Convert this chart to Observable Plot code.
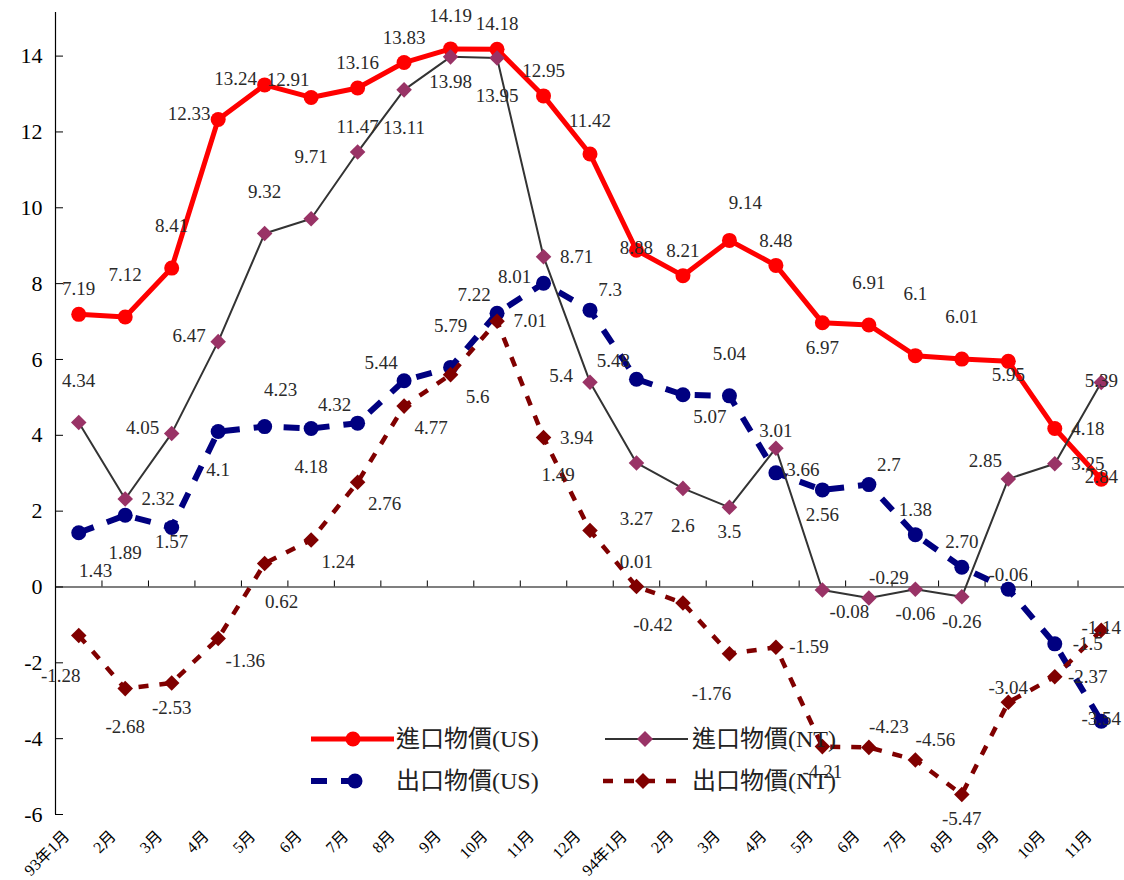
<!DOCTYPE html>
<html>
<head>
<meta charset="utf-8">
<script src="https://cdn.jsdelivr.net/npm/d3@7"></script>
<script src="https://cdn.jsdelivr.net/npm/@observablehq/plot@0.6"></script>
<style>
  body { margin: 0; background: #fff; }
  #chart { width: 1124px; height: 880px; }
</style>
</head>
<body>
<div id="chart"></div>
<script>
// ---- data ----
const months = ["93年1月","2月","3月","4月","5月","6月","7月","8月","9月","10月","11月","12月",
                "94年1月","2月","3月","4月","5月","6月","7月","8月","9月","10月","11月"];
const yTicks = [-6, -4, -2, 0, 2, 4, 6, 8, 10, 12, 14];

const importUS = [7.19, 7.12, 8.41, 12.33, 13.24, 12.91, 13.16, 13.83, 14.19, 14.18, 12.95, 11.42,
                  8.88, 8.21, 9.14, 8.48, 6.97, 6.91, 6.1, 6.01, 5.95, 4.18, 2.84];
const importNT = [4.34, 2.32, 4.05, 6.47, 9.32, 9.71, 11.47, 13.11, 13.98, 13.95, 8.71, 5.4,
                  3.27, 2.6, 2.1, 3.66, -0.08, -0.29, -0.06, -0.26, 2.85, 3.25, 5.39];
const exportUS = [1.43, 1.89, 1.57, 4.1, 4.23, 4.18, 4.32, 5.44, 5.79, 7.22, 8.01, 7.3,
                  5.48, 5.07, 5.04, 3.01, 2.56, 2.7, 1.38, 0.52, -0.06, -1.5, -3.54];
const exportNT = [-1.28, -2.68, -2.53, -1.36, 0.62, 1.24, 2.76, 4.77, 5.6, 7.01, 3.94, 1.49,
                  0.01, -0.42, -1.76, -1.59, -4.21, -4.23, -4.56, -5.47, -3.04, -2.37, -1.14];

// data-label texts as printed on the chart
const importUSLabels = importUS.map(String);
const importNTLabels = ["4.34","2.32","4.05","6.47","9.32","9.71","11.47","13.11","13.98","13.95","8.71","5.4",
                        "3.27","2.6","3.5","3.66","-0.08","-0.29","-0.06","-0.26","2.85","3.25","5.39"];
const exportUSLabels = ["1.43","1.89","1.57","4.1","4.23","4.18","4.32","5.44","5.79","7.22","8.01","7.3",
                        "5.48","5.07","5.04","3.01","2.56","2.7","1.38","2.70","-0.06","-1.5","-3.54"];
const exportNTLabels = exportNT.map(String);

// label placement keywords (like a spreadsheet's per-label position setting)
const importUSPos = ["t","tt","tt","l","l","tl","t","t","t2","t","t","t2","c","t","ttr","t","b","tt","ttt","tt","b1","r","c"];
const importNTPos = ["tt","r","l","l","tt","ttt","t","bb","b","bb","r","l","bbb","bb","b","br","br","tr","b","b","tl","r","c"];
const exportUSPos = ["bbr","bb","b1","bb","ttr","bb","tl","tl","tt","tl","l","tr","tl","br","tt","tt","b","tr","t","t","t1","r","c"];
const exportNTPos = ["bbl","bb","b","br","bbr","br","br","br","br","r","r","ttl","t","bl","bbl","r","b","tr","tr","b","t1","r","c"];

const placement = {
  c: [0, -2], t1: [0, -14], t: [0, -25], t2: [0, -33], tt: [0, -42], ttt: [0, -62],
  b1: [0, 14], b: [0, 25], bb: [0, 38], bbb: [0, 56],
  l: [-29, -6], r: [33, 0], tl: [-23, -18], tr: [20, -20],
  bl: [-30, 22], br: [27, 22], bbr: [17, 38], bbl: [-18, 40],
  ttl: [-32, -56], ttr: [16, -37]
};

// ---- styles ----
const serif = "'Liberation Serif', 'Times New Roman', 'Noto Sans CJK TC', serif";
const series = [
  {name: "出口物價(US)", values: exportUS, labels: exportUSLabels, pos: exportUSPos,
   stroke: "#000080", width: 6, dash: "16,14", symbol: "circle", fill: "#000080", r: 7.5},
  {name: "出口物價(NT)", values: exportNT, labels: exportNTLabels, pos: exportNTPos,
   stroke: "#800000", width: 4.5, dash: "10,11", symbol: "diamond2", fill: "#800000", r: 7},
  {name: "進口物價(US)", values: importUS, labels: importUSLabels, pos: importUSPos,
   stroke: "#ff0000", width: 5, dash: null, symbol: "circle", fill: "#ff0000", r: 7.5},
  {name: "進口物價(NT)", values: importNT, labels: importNTLabels, pos: importNTPos,
   stroke: "#333333", width: 2, dash: null, symbol: "diamond2", fill: "#993366", r: 7}
];

const rows = series.flatMap(s => s.values.map((v, i) => ({
  series: s.name, i, v, label: s.labels[i], pos: s.pos[i]
})));

const idx = d3.range(months.length);
const bounds = d3.range(months.length + 1).map(k => k - 0.5);

const marks = [
  Plot.ruleX([-0.5], {stroke: "#000", strokeWidth: 1.2}),
  Plot.ruleY([0], {stroke: "#000", strokeWidth: 1.2}),
  Plot.ruleX(bounds.slice(1), {x: d => d, y1: 0, y2: 0, insetTop: -6, stroke: "#000"}),
  Plot.ruleY(yTicks, {y: d => d, x1: -0.5, x2: -0.5, insetRight: -8, stroke: "#000"}),
  Plot.axisY({ticks: yTicks, tickSize: 0, tickPadding: 13, fontSize: 22, fill: "#000",
              tickFormat: d => String(d), label: null}),
  Plot.axisX({ticks: idx, tickFormat: i => months[i], tickRotate: -45, tickSize: 0,
              tickPadding: 19, dx: -12, fontSize: 16, fill: "#000", label: null})
];

for (const s of series) {
  const data = rows.filter(d => d.series === s.name);
  marks.push(Plot.line(data, {x: "i", y: "v", stroke: s.stroke, strokeWidth: s.width,
    strokeDasharray: s.dash || undefined, strokeLinejoin: "round", strokeLinecap: "butt"}));
  marks.push(Plot.dot(data, {x: "i", y: "v", symbol: s.symbol, r: s.r, fill: s.fill, stroke: "none"}));
}

for (const [k, [dx, dy]] of Object.entries(placement)) {
  const data = rows.filter(d => d.pos === k);
  if (!data.length) continue;
  marks.push(Plot.text(data, {x: "i", y: "v", text: "label", dx, dy, fontSize: 19,
    fill: "#2a2a2a", textAnchor: "middle", lineAnchor: "middle"}));
}

const svg = Plot.plot({
  width: 1124,
  height: 880,
  marginLeft: 55,
  marginRight: 0,
  marginTop: 12,
  marginBottom: 66,
  x: {type: "linear", domain: [-0.5, months.length - 0.5], axis: null},
  y: {domain: [-6, 15.15], axis: null},
  style: {fontFamily: serif, background: "#fff", overflow: "visible"},
  marks
});

// ---- legend (inside plot area) ----
const legendItems = [
  {s: series[2], x0: 311, x1: 394, mx: 353, y: 739, tx: 396},
  {s: series[3], x0: 605, x1: 688, mx: 645, y: 739, tx: 692},
  {s: series[0], x0: 311, x1: 371, mx: 355, y: 781, tx: 396},
  {s: series[1], x0: 603, x1: 676, mx: 643, y: 781, tx: 692}
];
const g = d3.select(svg).append("g").attr("font-family", serif).attr("text-anchor", "start");
for (const it of legendItems) {
  const s = it.s;
  g.append("line").attr("x1", it.x0).attr("x2", it.x1).attr("y1", it.y).attr("y2", it.y)
    .attr("stroke", s.stroke).attr("stroke-width", s.width)
    .attr("stroke-dasharray", s.dash || null);
  if (s.symbol === "circle") {
    g.append("circle").attr("cx", it.mx).attr("cy", it.y).attr("r", s.r).attr("fill", s.fill);
  } else {
    const h = 8;
    g.append("path").attr("d", `M${it.mx},${it.y - h}L${it.mx + h},${it.y}L${it.mx},${it.y + h}L${it.mx - h},${it.y}Z`)
      .attr("fill", s.fill);
  }
  g.append("text").attr("x", it.tx).attr("y", it.y).attr("dy", "0.35em")
    .attr("text-anchor", "start")
    .attr("font-size", 24).attr("fill", "#222").text(s.name);
}

document.getElementById("chart").append(svg);
</script>
</body>
</html>
